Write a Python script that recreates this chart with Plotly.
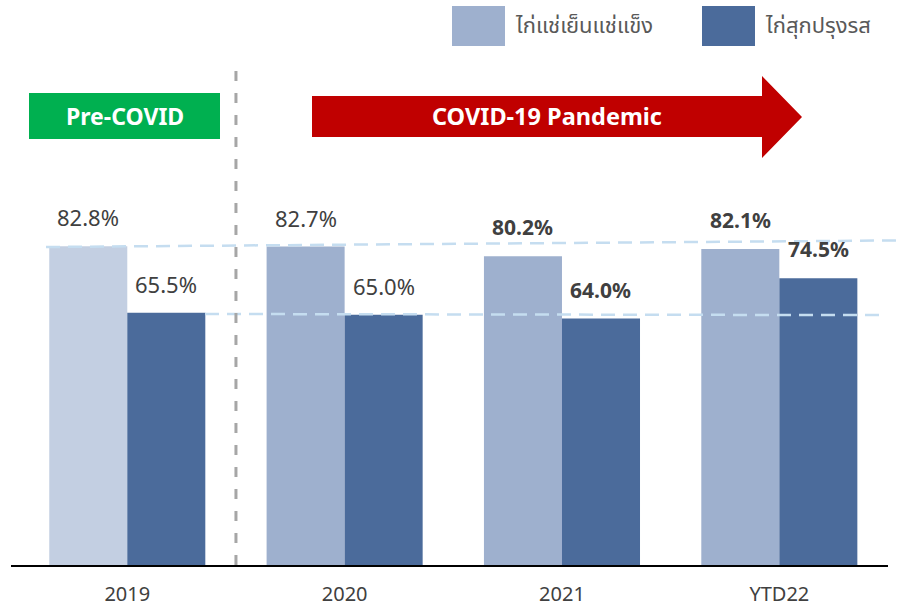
import plotly.graph_objects as go

categories = ["2019", "2020", "2021", "YTD22"]
series_names = ["ไก่แช่เย็นแช่แข็ง", "ไก่สุกปรุงรส"]
frozen = [82.8, 82.7, 80.2, 82.1]
cooked = [65.5, 65.0, 64.0, 74.5]
label_bold = [False, False, True, True]

W, H = 897, 607
L, R, T, B = 11, 9, 180, 42
PW, PH = W - L - R, H - T - B

def px(x):
    return (x - L) / PW

def py(y):
    return (H - B - y) / PH

FONT = "Noto Sans, Open Sans, sans-serif"
LIGHT = "#9EB0CE"
LIGHT_2019 = "#C3CFE2"
DARK = "#4B6B9B"
TXT = "#404040"

xs = list(range(len(categories)))

fig = go.Figure()
fig.add_trace(go.Bar(
    x=xs, y=frozen, name=series_names[0],
    marker=dict(color=[LIGHT_2019] + [LIGHT] * (len(categories) - 1), line=dict(width=0)),
    showlegend=False, hoverinfo="skip",
))
fig.add_trace(go.Bar(
    x=xs, y=cooked, name=series_names[1],
    marker=dict(color=DARK, line=dict(width=0)),
    showlegend=False, hoverinfo="skip",
))

annotations = []
for i in xs:
    for vals, shift in ((frozen, -39), (cooked, 39)):
        v = vals[i]
        t = f"{v:.1f}%"
        size = 22
        if label_bold[i]:
            t = f"<b>{t}</b>"
            size = 21
        annotations.append(dict(
            x=i, y=v, xref="x", yref="y", text=t, showarrow=False,
            xshift=shift, yshift=29, yanchor="middle", xanchor="center",
            font=dict(family=FONT, size=size, color=TXT),
        ))

shapes = []
# reference dashed lines
shapes.append(dict(type="line", xref="paper", yref="y", x0=px(46), x1=px(897),
                   y0=82.6, y1=84.3, line=dict(color="#C5DDF0", width=2.5, dash="14px,8px"), layer="above"))
shapes.append(dict(type="line", xref="paper", yref="y", x0=px(205), x1=px(882),
                   y0=65.2, y1=64.9, line=dict(color="#C5DDF0", width=2.5, dash="14px,8px"), layer="above"))
# vertical divider
shapes.append(dict(type="line", xref="x", yref="paper", x0=0.5, x1=0.5,
                   y0=0, y1=py(68), line=dict(color="#A6A6A6", width=3, dash="10px,12px")))
# Pre-COVID box
shapes.append(dict(type="rect", xref="paper", yref="paper", x0=px(29), x1=px(220),
                   y0=py(139), y1=py(93), fillcolor="#00B050", line=dict(width=0)))
annotations.append(dict(x=px(124.5), y=py(116), xref="paper", yref="paper", text="<b>Pre-COVID</b>",
                        showarrow=False, font=dict(family=FONT, size=23, color="white"),
                        xanchor="center", yanchor="middle"))
# COVID arrow
pts = [(312, 96), (762, 96), (762, 76), (802, 117), (762, 158), (762, 137), (312, 137)]
path = "M " + " L ".join(f"{px(a):.5f},{py(b):.5f}" for a, b in pts) + " Z"
shapes.append(dict(type="path", xref="paper", yref="paper", path=path,
                   fillcolor="#C00000", line=dict(width=0)))
annotations.append(dict(x=px(547), y=py(116), xref="paper", yref="paper", text="<b>COVID-19 Pandemic</b>",
                        showarrow=False, font=dict(family=FONT, size=23.5, color="white"),
                        xanchor="center", yanchor="middle"))
# legend
for (x0, x1, tx), col, name in (((452, 505, 513), LIGHT, series_names[0]), ((702, 755, 763), DARK, series_names[1])):
    shapes.append(dict(type="rect", xref="paper", yref="paper", x0=px(x0), x1=px(x1),
                       y0=py(46), y1=py(6), fillcolor=col, line=dict(width=0)))
    annotations.append(dict(x=px(tx), y=py(26), xref="paper", yref="paper", text=name,
                            showarrow=False, font=dict(family="Noto Sans Thai, Tahoma, sans-serif", size=22, color="#595959"),
                            xanchor="left", yanchor="middle"))

fig.update_layout(
    width=W, height=H,
    margin=dict(l=L, r=R, t=T, b=B, autoexpand=False),
    paper_bgcolor="white", plot_bgcolor="white",
    barmode="group", bargap=0.282, bargroupgap=0,
    hovermode=False,
    xaxis=dict(range=[-0.535, 3.5], tickmode="array", tickvals=xs, ticktext=categories,
               showline=True, linecolor="black", linewidth=2, automargin=False,
               showgrid=False, zeroline=False, ticks="", ticklabelstandoff=10,
               tickfont=dict(family=FONT, size=20, color=TXT)),
    yaxis=dict(range=[0, 100], visible=False, showgrid=False, zeroline=False, automargin=False),
    shapes=shapes, annotations=annotations,
)

fig.write_html("out.html", config={"displayModeBar": False},
               post_script="document.body.style.margin='0';document.body.style.overflow='hidden';")
